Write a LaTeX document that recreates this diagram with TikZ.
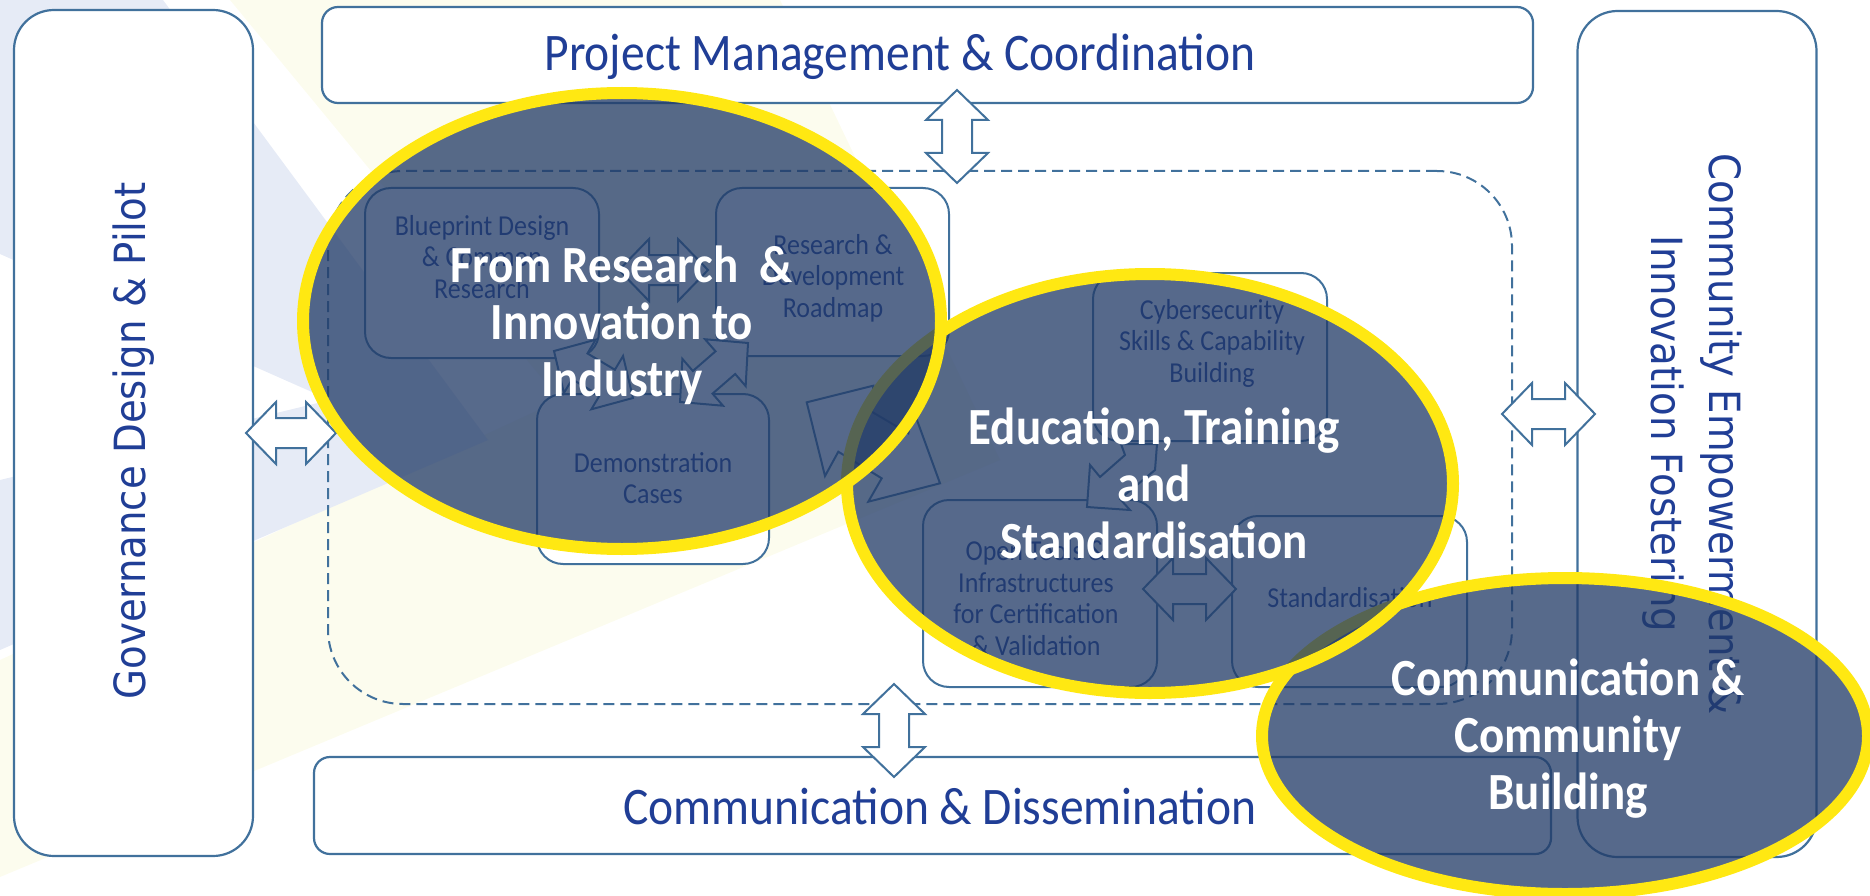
\documentclass[tikz,border=0pt]{standalone}
\usepackage{fontspec}
\setmainfont{Carlito}[FakeStretch=0.9]
\newfontfamily\sidefont[FakeStretch=0.9]{DejaVu Sans}
\usetikzlibrary{calc}

\definecolor{boxline}{RGB}{65,113,156}
\definecolor{txtblue}{RGB}{32,62,150}
\definecolor{ovl}{RGB}{34,59,103}
\definecolor{ring}{RGB}{255,232,18}
\definecolor{bgblue}{RGB}{230,235,246}
\definecolor{bgyellow}{RGB}{252,252,238}

% double block arrow between two named points
\newcommand\dblarrow[2]{%
  \path let \p1=(#1), \p2=(#2), \n1={atan2(\y2-\y1,\x2-\x1)}, \n2={veclen(\x2-\x1,\y2-\y1)} in
   [blockarrow, shift={(\p1)}, rotate=\n1]
   (0pt,0pt) -- (30pt,31pt) -- (30pt,15pt) -- ({\n2-30pt},15pt) -- ({\n2-30pt},31pt)
   -- ({\n2},0pt) -- ({\n2-30pt},-31pt) -- ({\n2-30pt},-15pt) -- (30pt,-15pt) -- (30pt,-31pt) -- cycle;}

\begin{document}
\begin{tikzpicture}[x=1pt,y=-1pt,
  outerbox/.style={draw=boxline, line width=2.2pt, fill=white, inner sep=0pt},
  innerbox/.style={draw=boxline, line width=2pt, fill=white, inner sep=0pt, rounded corners=26pt},
  boxtext/.style={text=txtblue, inner sep=0pt, font=\fontsize{52.8}{60}\selectfont},
  sidetext/.style={text=txtblue, inner sep=0pt, align=center, font=\sidefont\fontsize{43}{58}\selectfont},
  intext/.style={text=txtblue, inner sep=0pt, align=center, font=\fontsize{28.9}{31.5}\selectfont},
  bigtext/.style={text=white, inner sep=0pt, align=center, font=\fontsize{52.2}{57}\selectfont\bfseries},
  blockarrow/.style={draw=boxline, line width=2pt, fill=white, line join=miter},
  hilite/.style={draw=ring, line width=12pt, fill=ovl, fill opacity=0.76},
  grouprect/.style={draw=boxline, line width=2pt, dash pattern=on 11pt off 6pt, rounded corners=75pt, inner sep=0pt}
]
\useasboundingbox (0,0) rectangle (1870,896);

% faint background chevrons
\fill[bgyellow] (230,0) -- (780,0) -- (1000,460) -- (0,877) -- (0,660) -- (560,400) -- cycle;
\fill[bgblue] (0,0) -- (163,0) -- (488,440) -- (0,650) -- (0,480) -- (330,400) -- (0,254) -- cycle;

% outer boxes
\node[outerbox, rounded corners=40pt, minimum width=239pt, minimum height=846pt] (gov) at (133.5,433) {};
\node[sidetext, rotate=90] (govtext) at (134,441) {Governance Design \& Pilot};

\node[outerbox, rounded corners=16pt, minimum width=1211pt, minimum height=96pt] (pm) at (927.5,55) {};
\node[boxtext] (pmtext) at (900,57) {Project Management \& Coordination};

\node[outerbox, rounded corners=16pt, minimum width=1237pt, minimum height=97pt] (cd) at (932.5,805.5) {};
\node[boxtext] (cdtext) at (940,806) {Communication \& Dissemination};

\node[outerbox, rounded corners=40pt, minimum width=239pt, minimum height=846pt] (ce) at (1697,434) {};
\node[sidetext, rotate=-90] (cetext) at (1692,434) {Community Empowerment \&\\Innovation Fostering};

% dashed group
\node[grouprect, minimum width=1184pt, minimum height=533pt] (grp) at (920,437.5) {};

% inner boxes
\node[innerbox, minimum width=234pt, minimum height=170pt] (bp) at (482,273) {};
\node[innerbox, minimum width=233pt, minimum height=168pt] (rd) at (832.5,272) {};
\node[innerbox, minimum width=232pt, minimum height=170pt] (dm) at (653,479) {};
\node[innerbox, minimum width=234pt, minimum height=168pt] (cy) at (1210,357) {};
\node[innerbox, minimum width=234pt, minimum height=187pt] (ot) at (1040,593.5) {};
\node[innerbox, minimum width=235pt, minimum height=171pt] (st) at (1349.5,601.5) {};

\node[intext] (bptext) at (482,257) {Blueprint Design\\\& Common\\Research};
\node[intext] (rdtext) at (833,278) {Research \&\\Development\\Roadmap};
\node[intext] (dmtext) at (653,478) {Demonstration\\Cases};
\node[intext] (cytext) at (1212,343) {Cybersecurity\\Skills \& Capability\\Building};
\node[intext] (ottext) at (1036,598) {Open Tools \&\\Infrastructures\\for Certification\\\& Validation};
\node[intext] (sttext) at (1350,598) {Standardisation};

% arrow end points
\coordinate (pmA) at (957,90);   \coordinate (grpA) at (957,183);
\coordinate (grpB) at (894,684); \coordinate (cdB) at (894,777);
\coordinate (govC) at (246,433); \coordinate (grpC) at (336,433);
\coordinate (grpD) at (1502,414); \coordinate (ceD) at (1595,414);
\coordinate (bpE) at (619,270);  \coordinate (rdE) at (708,270);
\coordinate (bpF) at (554,351);  \coordinate (dmF) at (633,398);
\coordinate (rdG) at (748,343);  \coordinate (dmG) at (680,402);
\coordinate (otH) at (1143,589); \coordinate (stH) at (1236,589);

\dblarrow{pmA}{grpA}
\dblarrow{grpB}{cdB}
\dblarrow{govC}{grpC}
\dblarrow{grpD}{ceD}
\dblarrow{bpE}{rdE}
\dblarrow{bpF}{dmF}
\dblarrow{rdG}{dmG}
\dblarrow{otH}{stH}

% bent block arrow towards the second cluster
\draw[blockarrow] (806.7,402.3) -- (873.3,385.7) -- (871.7,411.7) -- (908.3,433.3) -- (913.3,410)
  -- (940,483.3) -- (868.3,501.7) -- (881.7,478.3) -- (838.3,451.7) -- (825,476) -- cycle;
% arrow from skills box to open tools box
\draw[blockarrow] (1087,507) -- (1090,465) -- (1100,477) -- (1125,455) -- (1121,444) -- (1157,444)
  -- (1155,470) -- (1120,499) -- (1130,510) -- cycle;

% highlight ellipses
\draw[hilite] (1565,736) ellipse [x radius=303pt, y radius=158pt];
\draw[hilite] (1150,483.5) ellipse [x radius=303pt, y radius=209.5pt];
\draw[hilite] (622,321) ellipse [x radius=319pt, y radius=228pt];

\node[bigtext] (t1) at (622,325.5) {From Research\ \ \&\\Innovation to\\Industry};
\node[bigtext] (t2) at (1154,483) {Education, Training\\and\\Standardisation};
\node[bigtext] (t3) at (1568,739) {Communication \&\\Community\\Building};
\end{tikzpicture}
\end{document}
